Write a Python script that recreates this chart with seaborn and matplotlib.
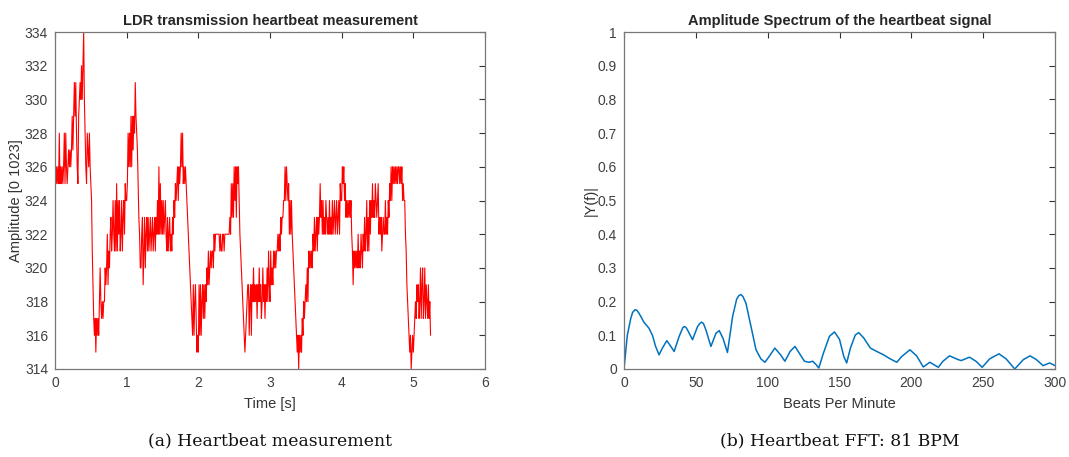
import numpy as np
import pandas as pd
import matplotlib
matplotlib.use("Agg")
import matplotlib.pyplot as plt
import seaborn as sns

# LDR readings (ADC counts, 0..1023) sampled at 100 Hz, one row per 0.1 s
SAMPLE_RATE = 100.0
ldr_counts = [
    328, 325, 326, 325, 326, 325, 328, 325, 326, 325,
    326, 325, 326, 328, 325, 328, 326, 325, 326, 327,
    326, 327, 326, 327, 329, 327, 329, 331, 329, 331,
    328, 326, 325, 329, 330, 331, 330, 332, 330, 332,
    334, 330, 328, 326, 325, 328, 327, 326, 328, 326,
    325, 324, 321, 319, 317, 316, 317, 315, 317, 316,
    317, 316, 318, 320, 318, 317, 318, 317, 318, 318,
    320, 319, 320, 322, 319, 321, 320, 322, 323, 321,
    322, 324, 322, 321, 324, 321, 325, 321, 324, 322,
    324, 321, 322, 324, 321, 323, 324, 322, 325, 324,
    324, 325, 328, 326, 328, 326, 329, 326, 329, 327,
    329, 328, 331, 329, 328, 327, 325, 323, 322, 320,
    320, 322, 323, 319, 321, 323, 320, 322, 323, 321,
    323, 321, 322, 323, 321, 322, 323, 321, 322, 323,
    321, 323, 322, 324, 322, 326, 322, 325, 322, 324,
    322, 324, 322, 323, 324, 322, 321, 323, 321, 322,
    323, 321, 322, 321, 323, 322, 324, 323, 325, 324,
    325, 326, 324, 326, 325, 326, 328, 326, 328, 325,
    326, 325, 326, 325, 324, 323, 322, 321, 320, 319,
    318, 317, 316, 319, 316, 318, 319, 317, 315, 316,
    315, 319, 316, 319, 316, 318, 319, 317, 319, 317,
    319, 318, 320, 319, 321, 319, 320, 321, 320, 321,
    321, 320, 322, 321, 322, 322, 322, 322, 322, 322,
    321, 322, 321, 321, 322, 322, 321, 322, 322, 322,
    322, 322, 322, 322, 323, 322, 325, 323, 325, 323,
    326, 324, 326, 323, 326, 325, 326, 324, 322, 321,
    320, 319, 318, 317, 316, 315, 316, 317, 318, 319,
    319, 316, 318, 319, 316, 319, 318, 320, 318, 319,
    318, 319, 317, 319, 318, 320, 318, 319, 317, 318,
    320, 318, 319, 317, 319, 318, 320, 318, 321, 319,
    318, 321, 319, 320, 319, 321, 320, 321, 320, 321,
    321, 322, 321, 322, 321, 323, 322, 323, 323, 324,
    324, 326, 324, 326, 325, 324, 325, 322, 324, 322,
    324, 322, 321, 320, 319, 318, 317, 316, 315, 316,
    314, 316, 315, 316, 315, 317, 316, 318, 317, 318,
    319, 318, 320, 318, 321, 320, 321, 320, 321, 320,
    322, 321, 323, 321, 322, 323, 321, 323, 322, 323,
    325, 323, 324, 322, 324, 322, 323, 322, 324, 323,
    322, 323, 322, 324, 322, 323, 322, 324, 322, 323,
    324, 322, 323, 324, 322, 323, 324, 322, 325, 324,
    324, 326, 325, 326, 324, 325, 323, 324, 323, 324,
    323, 324, 323, 324, 322, 321, 319, 321, 320, 321,
    320, 321, 320, 322, 320, 321, 320, 322, 321, 320,
    322, 321, 323, 321, 322, 324, 321, 323, 321, 324,
    322, 324, 323, 325, 323, 324, 323, 325, 324, 323,
    324, 325, 322, 323, 322, 323, 321, 322, 323, 322,
    322, 324, 322, 323, 322, 324, 323, 325, 324, 326,
    324, 326, 325, 326, 325, 326, 325, 326, 325, 326,
    326, 325, 326, 325, 326, 324, 325, 324, 324, 322,
    321, 319, 318, 317, 316, 315, 316, 314, 315, 316,
    315, 316, 317, 318, 317, 319, 318, 319, 317, 318,
    320, 317, 319, 320, 317, 318, 320, 317, 319, 318,
    317, 319, 317, 318, 316,
]

# Single-sided amplitude spectrum |Y(f)| against beats per minute
spec_bpm = [
    0, 2.3, 4.7, 6.0, 7.7, 9.0, 10.5, 14, 17.4, 19.8,
    22, 24.4, 26.7, 29.8, 32.6, 34.9, 38.4, 41, 41.9, 43,
    44.2, 47.7, 51.2, 53, 54, 55.3, 57, 60.5, 64, 66.3,
    69, 72, 75.6, 78.4, 80, 81.4, 82.8, 84.9, 88.4, 91.9,
    95.3, 98.1, 101, 105, 109, 112, 115.6, 119, 122, 125.6,
    128.6, 131.4, 133.7, 135.6, 138.8, 143, 146.5, 150, 153, 155,
    157.6, 161, 163.4, 166.9, 171.5, 176, 180.7, 185.3, 189.9, 193.3,
    199, 203.7, 208.3, 212.9, 218.8, 222, 226.6, 232.5, 234.7, 240.5,
    245, 249.3, 254.5, 261, 266, 272, 278, 282.6, 287, 291.7,
    296.3, 300,
]
spec_amp = [
    0.0, 0.10, 0.15, 0.168, 0.176, 0.174, 0.165, 0.138, 0.121, 0.10,
    0.067, 0.042, 0.062, 0.084, 0.067, 0.052, 0.097, 0.123, 0.126, 0.124,
    0.116, 0.087, 0.126, 0.136, 0.139, 0.135, 0.116, 0.067, 0.106, 0.114,
    0.09, 0.049, 0.156, 0.207, 0.218, 0.221, 0.215, 0.195, 0.126, 0.057,
    0.030, 0.020, 0.037, 0.062, 0.042, 0.023, 0.052, 0.067, 0.047, 0.023,
    0.020, 0.023, 0.013, 0.003, 0.047, 0.097, 0.11, 0.088, 0.037, 0.018,
    0.062, 0.101, 0.108, 0.092, 0.062, 0.052, 0.042, 0.030, 0.020, 0.037,
    0.057, 0.039, 0.006, 0.020, 0.005, 0.023, 0.039, 0.028, 0.025, 0.035,
    0.023, 0.005, 0.030, 0.045, 0.030, 0.0, 0.028, 0.039, 0.028, 0.010,
    0.018, 0.010,
]

left_yticks = list(range(314, 335, 2))
left_xticks = [0, 1, 2, 3, 4, 5, 6]
right_yticks = [0, 0.1, 0.2, 0.3, 0.4, 0.5, 0.6, 0.7, 0.8, 0.9, 1]
right_ytick_labels = ["0", "0.1", "0.2", "0.3", "0.4", "0.5", "0.6", "0.7", "0.8", "0.9", "1"]
right_xticks = [0, 50, 100, 150, 200, 250, 300]

sns.set_style("white")
plt.rcParams["font.family"] = ["Liberation Sans", "DejaVu Sans"]

signal = pd.DataFrame({
    "time": np.arange(len(ldr_counts)) / SAMPLE_RATE,
    "amplitude": ldr_counts,
})
spectrum = pd.DataFrame({"bpm": spec_bpm, "amp": spec_amp})

fig = plt.figure(figsize=(10.69, 4.57), dpi=100)
ax1 = fig.add_axes([55 / 1069, 1 - 369 / 457, 430 / 1069, 337 / 457])
ax2 = fig.add_axes([624 / 1069, 1 - 369 / 457, 431 / 1069, 337 / 457])

sns.lineplot(data=signal, x="time", y="amplitude", ax=ax1, color="#ff0000",
             linewidth=0.8, estimator=None, sort=False)
sns.lineplot(data=spectrum, x="bpm", y="amp", ax=ax2, color="#0072BD",
             linewidth=1.1, estimator=None, sort=False)

tick_color = "#404040"
spine_color = "#777777"


def style_axes(ax):
    for sp in ax.spines.values():
        sp.set_visible(True)
        sp.set_color(spine_color)
        sp.set_linewidth(0.9)
    ax.tick_params(direction="in", length=4, width=0.8, color="#333333",
                   top=True, right=True, labelsize=10, labelcolor=tick_color,
                   pad=5)


ax1.set_xlim(0, 6)
ax1.set_ylim(314, 334)
ax1.set_xticks(left_xticks)
ax1.set_yticks(left_yticks)
ax1.set_title("LDR transmission heartbeat measurement", fontsize=10.5,
              fontweight="bold", pad=5)
ax1.set_xlabel("Time [s]", fontsize=10.5, color="#333333", labelpad=5)
ax1.set_ylabel("Amplitude [0 1023]", fontsize=10.5, color="#333333", labelpad=1)
style_axes(ax1)

ax2.set_xlim(0, 300)
ax2.set_ylim(0, 1)
ax2.set_xticks(right_xticks)
ax2.set_yticks(right_yticks)
ax2.set_yticklabels(right_ytick_labels)
ax2.set_title("Amplitude Spectrum of the heartbeat signal", fontsize=10.5,
              fontweight="bold", pad=5)
ax2.set_xlabel("Beats Per Minute", fontsize=10.5, color="#333333", labelpad=5)
ax2.set_ylabel("|Y(f)|", fontsize=10.5, color="#333333", labelpad=0)
style_axes(ax2)

fig.text(270 / 1069, 1 - 441 / 457, "(a) Heartbeat measurement",
         ha="center", va="center", fontsize=12.4, family="DejaVu Serif",
         color="#111111")
fig.text(840 / 1069, 1 - 441 / 457, "(b) Heartbeat FFT: 81 BPM",
         ha="center", va="center", fontsize=12.4, family="DejaVu Serif",
         color="#111111")

fig.savefig("out.png", dpi=100, facecolor="white")
